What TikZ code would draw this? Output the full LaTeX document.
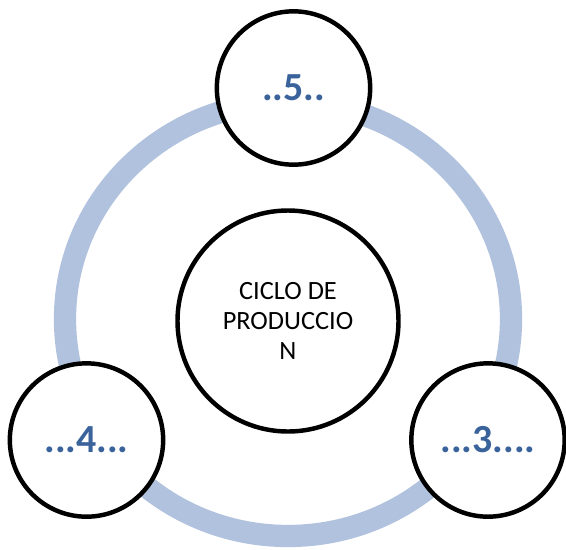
\documentclass[tikz,border=0pt]{standalone}
\usepackage{fontspec}
\setmainfont{Carlito}
\definecolor{ringblue}{RGB}{176,194,221}
\definecolor{numblue}{RGB}{59,99,155}
\tikzset{
	stage/.style={circle,draw=black,fill=white,line width=3.8pt,inner sep=0pt,minimum size=4.6cm,
		font=\fontsize{34}{40}\selectfont\bfseries,text=numblue},
	hub/.style={circle,draw=black,fill=white,line width=3.8pt,inner sep=0pt,minimum size=6.63cm,
		align=center,font=\fontsize{22.5}{25.8}\selectfont},
}
\begin{document}
\begin{tikzpicture}[x=0.03cm,y=-0.03cm]
		\useasboundingbox (0,0) rectangle (566,549);
		\draw[ringblue,line width=19pt] (288,319) ellipse [x radius=223,y radius=217];
		\node[hub] (ciclo) at (288,321) {CICLO DE\\PRODUCCIO\\N};
		\node[stage] (cinco) at (293.5,88) {..5..};
		\node[stage] (cuatro) at (86.5,440) {...4...};
		\node[stage] (tres) at (488,440) {...3....};
	\end{tikzpicture}
\end{document}
